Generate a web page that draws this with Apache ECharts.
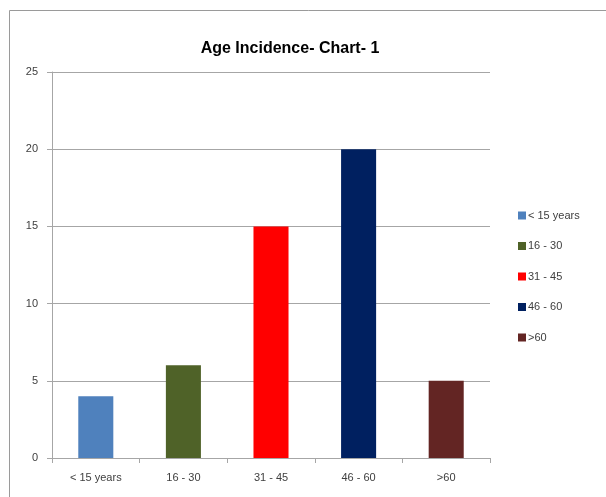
<!DOCTYPE html>
<html>
<head>
<meta charset="utf-8">
<script src="https://cdn.jsdelivr.net/npm/echarts@6/dist/echarts.min.js"></script>
<style>
  html, body { margin: 0; padding: 0; background: #ffffff; }
  #chart { width: 606px; height: 497px; }
</style>
</head>
<body>
<div id="chart"></div>
<script>
// Age groups and number of cases in each group
const categories = ['< 15 years', '16 - 30', '31 - 45', '46 - 60', '>60'];
const cases = [4, 6, 15, 20, 5];
const barColors = ['#4F81BD', '#4F6228', '#FF0000', '#002060', '#632523'];
const yTicks = { min: 0, max: 25, interval: 5 };

const chart = echarts.init(document.getElementById('chart'), null, { renderer: 'canvas' });

// One series per age group so each group gets its own legend entry;
// stacking keeps every bar centred in its category slot.
const series = categories.map((name, i) => ({
  name: name,
  type: 'bar',
  stack: 'cases',
  barWidth: '40%',
  itemStyle: { color: barColors[i] },
  data: categories.map((_, j) => (j === i ? cases[i] : '-'))
}));

const axisGrey = '#a6a6a6';
const labelColor = '#404040';
const font = 'Liberation Sans, Arial, sans-serif';

chart.setOption({
  animation: false,
  backgroundColor: '#ffffff',
  title: {
    text: 'Age Incidence- Chart- 1',
    left: 285,
    top: 36,
    textAlign: 'center',
    textStyle: { fontFamily: font, fontSize: 16, fontWeight: 'bold', color: '#000000' }
  },
  graphic: [{
    type: 'rect',
    shape: { x: 9.5, y: 10.5, width: 700, height: 600 },
    style: { fill: 'none', stroke: '#9a9a9a', lineWidth: 1 },
    silent: true,
    z: -1
  }],
  grid: { left: 52, right: 116, top: 72, bottom: 39, containLabel: false },
  legend: {
    orient: 'vertical',
    left: 513,
    top: 205,
    itemWidth: 8,
    itemHeight: 8,
    itemGap: 19.5,
    icon: 'rect',
    data: categories,
    textStyle: { fontFamily: font, fontSize: 11, color: labelColor, padding: [0, 0, 0, -3] }
  },
  xAxis: {
    type: 'category',
    data: categories,
    axisLine: { lineStyle: { color: axisGrey, width: 1 } },
    axisTick: { show: true, alignWithLabel: false, length: 5, lineStyle: { color: axisGrey } },
    axisLabel: { margin: 14, fontFamily: font, fontSize: 11, color: labelColor },
    splitLine: { show: false }
  },
  yAxis: {
    type: 'value',
    min: yTicks.min,
    max: yTicks.max,
    interval: yTicks.interval,
    axisLine: { show: true, lineStyle: { color: axisGrey, width: 1 } },
    axisTick: { show: true, length: 5, lineStyle: { color: axisGrey } },
    axisLabel: { margin: 14, fontFamily: font, fontSize: 11, color: labelColor },
    splitLine: { show: true, lineStyle: { color: axisGrey, width: 1 } }
  },
  series: series
});
</script>
</body>
</html>
